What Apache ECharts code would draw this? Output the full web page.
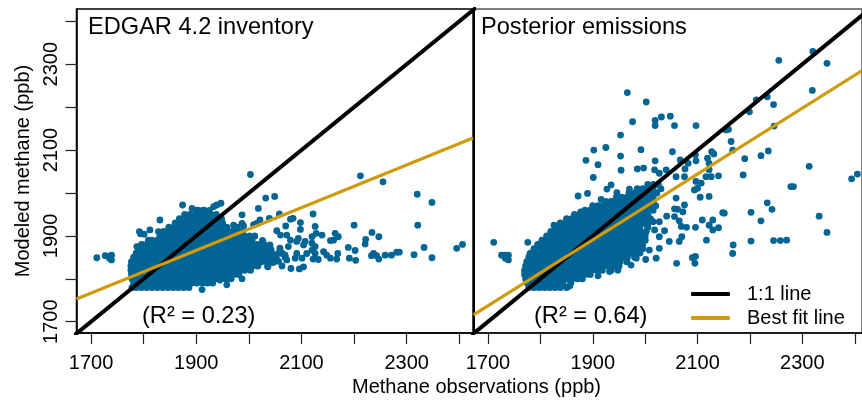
<!DOCTYPE html>
<html><head><meta charset="utf-8">
<style>html,body{margin:0;padding:0;background:#fff}#c{width:862px;height:400px}</style>
<script src="https://cdn.jsdelivr.net/npm/echarts@6/dist/echarts.min.js"></script>
</head><body><div id="c"></div>
<script>
const tickValues = [1700,1800,1900,2000,2100,2200,2300,2400];
const labelValues = [1700,1900,2100,2300];
const edgarOneToOne = [[1650,1650],[2450,2450]];
const edgarBestFit = [[1672.4,1753],[2426,2128]];
const posteriorOneToOne = [[1650,1650],[2450,2450]];
const posteriorBestFit = [[1672.4,1716],[2414,2285]];

const edgarCloud = [
[1778,1780],[1786,1780],[1796,1780],[1806,1780],[1816,1780],[1826,1780],[1836,1780],[1846,1780],[1856,1780],[1866,1780],[1876,1780],[1886,1780],
[1781,1790],[1791,1790],[1801,1790],[1811,1790],[1821,1790],[1831,1790],[1841,1790],[1851,1790],[1861,1790],[1871,1790],[1881,1790],[1891,1790],[1901,1790],[1911,1790],[1921,1790],[1931,1790],
[1778,1800],[1786,1800],[1796,1800],[1806,1800],[1816,1800],[1826,1800],[1836,1800],[1846,1800],[1856,1800],[1866,1800],[1876,1800],[1886,1800],[1896,1800],[1906,1800],[1916,1800],[1926,1800],[1936,1800],[1946,1800],[1956,1800],[1966,1800],
[1777,1810],[1781,1810],[1791,1810],[1801,1810],[1811,1810],[1821,1810],[1831,1810],[1841,1810],[1851,1810],[1861,1810],[1871,1810],[1881,1810],[1891,1810],[1901,1810],[1911,1810],[1921,1810],[1931,1810],[1941,1810],[1951,1810],[1961,1810],[1971,1810],[1981,1810],
[1776,1820],[1782,1820],[1792,1820],[1802,1820],[1812,1820],[1822,1820],[1832,1820],[1842,1820],[1852,1820],[1862,1820],[1872,1820],[1882,1820],[1892,1820],[1902,1820],[1912,1820],[1922,1820],[1932,1820],[1942,1820],[1952,1820],[1962,1820],[1972,1820],[1982,1820],[1992,1820],[2003,1820],
[1776,1830],[1779,1830],[1787,1830],[1797,1830],[1807,1830],[1817,1830],[1827,1830],[1837,1830],[1847,1830],[1857,1830],[1867,1830],[1877,1830],[1887,1830],[1897,1830],[1907,1830],[1917,1830],[1927,1830],[1937,1830],[1947,1830],[1957,1830],[1967,1830],[1977,1830],[1987,1830],[1997,1830],[2007,1830],[2017,1830],[2036,1829],
[1777,1840],[1784,1840],[1794,1840],[1804,1840],[1814,1840],[1824,1840],[1834,1840],[1844,1840],[1854,1840],[1864,1840],[1874,1840],[1884,1840],[1894,1840],[1904,1840],[1914,1840],[1924,1840],[1934,1840],[1944,1840],[1954,1840],[1964,1840],[1974,1840],[1984,1840],[1994,1840],[2004,1840],[2014,1840],[2024,1840],[2034,1840],[2046,1838],[2056,1841],
[1781,1850],[1789,1850],[1799,1850],[1809,1850],[1819,1850],[1829,1850],[1839,1850],[1849,1850],[1859,1850],[1869,1850],[1879,1850],[1889,1850],[1899,1850],[1909,1850],[1919,1850],[1929,1850],[1939,1850],[1949,1850],[1959,1850],[1969,1850],[1979,1850],[1989,1850],[1999,1850],[2009,1850],[2019,1850],[2030,1852],[2041,1849],[2052,1851],[2069,1850],
[1786,1860],[1794,1860],[1804,1860],[1814,1860],[1824,1860],[1834,1860],[1844,1860],[1854,1860],[1864,1860],[1874,1860],[1884,1860],[1894,1860],[1904,1860],[1914,1860],[1924,1860],[1934,1860],[1944,1860],[1954,1860],[1964,1860],[1974,1860],[1984,1860],[1994,1860],[2004,1860],[2014,1860],[2024,1860],[2035,1861],[2046,1858],[2058,1862],[2064,1859],
[1790,1870],[1799,1870],[1809,1870],[1819,1870],[1829,1870],[1839,1870],[1849,1870],[1859,1870],[1869,1870],[1879,1870],[1889,1870],[1899,1870],[1909,1870],[1919,1870],[1929,1870],[1939,1870],[1949,1870],[1959,1870],[1969,1870],[1979,1870],[1989,1870],[1999,1870],[2009,1870],[2019,1870],[2030,1871],[2042,1868],[2059,1871],
[1796,1880],[1806,1880],[1816,1880],[1826,1880],[1836,1880],[1846,1880],[1856,1880],[1866,1880],[1876,1880],[1886,1880],[1896,1880],[1906,1880],[1916,1880],[1926,1880],[1936,1880],[1946,1880],[1956,1880],[1966,1880],[1976,1880],[1986,1880],[1996,1880],[2006,1880],[2016,1880],[2028,1881],[2040,1879],
[1816,1890],[1826,1890],[1836,1890],[1846,1890],[1856,1890],[1866,1890],[1876,1890],[1886,1890],[1896,1890],[1906,1890],[1916,1890],[1926,1890],[1936,1890],[1946,1890],[1956,1890],[1966,1890],[1976,1890],[1986,1890],[1996,1890],[2006,1890],[2026,1889],
[1831,1900],[1841,1900],[1851,1900],[1861,1900],[1871,1900],[1881,1900],[1891,1900],[1901,1900],[1911,1900],[1921,1900],[1931,1900],[1941,1900],[1951,1900],[1961,1900],[1971,1900],[1981,1900],[1991,1900],[2001,1900],[2011,1900],
[1838,1910],[1848,1910],[1858,1910],[1868,1910],[1878,1910],[1888,1910],[1898,1910],[1908,1910],[1918,1910],[1928,1910],[1938,1910],[1948,1910],[1958,1910],[1968,1910],[1978,1910],[1988,1910],
[1848,1920],[1858,1920],[1868,1920],[1878,1920],[1888,1920],[1898,1920],[1908,1920],[1918,1920],[1928,1920],[1938,1920],[1948,1920],[1958,1920],[1978,1920],
[1860,1930],[1870,1930],[1880,1930],[1890,1930],[1900,1930],[1910,1930],[1920,1930],[1930,1930],[1940,1930],[1950,1930],
[1868,1940],[1878,1940],[1888,1940],[1898,1940],[1908,1940],[1918,1940],[1928,1940],[1938,1940],[1948,1940],
[1878,1950],[1888,1950],[1898,1950],[1908,1950],[1918,1950],[1928,1950],[1938,1950],
[1905,1959],[1915,1959],[1925,1959]
];
const edgarOutliers = [
[1711,1849],[1727,1854],[1733,1852],[1739,1855],[1739,1844],[1735,1848],
[2003,2043],[2032,1988],[2049,1992],[2212,2040],[2255,2026],[2320,1997],[2348,1978],[2321,1925],[2200,1925],[2234,1908],[2247,1898],[2222,1892],[2221,1881],[2189,1873],[2202,1866],[2169,1859],[2167,1846],[2155,1848],[2191,1848],[2203,1843],[2233,1854],[2237,1859],[2243,1854],[2247,1846],[2259,1855],[2271,1855],[2281,1862],[2286,1862],[2314,1856],[2333,1873],[2348,1849],[2395,1871],[2406,1880],
[2164,1906],[2170,1898],[2155,1889],[2161,1890],[2142,1863],[2148,1855],[2132,1845],[2122,1846],[2122,1951],[2126,1922],[2128,1906],[2120,1898],[2139,1902],[2098,1931],[2098,1915],[2094,1894],[2091,1887],[2107,1887],[2104,1879],[2120,1883],[2126,1875],[2120,1867],[2126,1859],[2110,1859],[2091,1859],[2101,1848],[2088,1848],[2104,1828],[2096,1823],[2080,1824],[2084,1941],[2079,1939],[2070,1923],[2058,1951],[2039,1941],[2053,1912],[2060,1902],[2072,1902],[2079,1890],[2075,1875],[2069,1855],[2072,1844],[2063,1830],[2036,1828],[2018,1964],[1987,1949],[1971,1925],[1987,1929],[1990,1923],[2009,1926],[2021,1937],[2015,1929],[1987,1800],[1958,1786],[1911,1775],[1961,1801],[1945,1797],
[1831,1937],[1874,1972],[1892,1964],[1901,1960],[1914,1960],[1933,1968],[1939,1972],[1947,1976],[1792,1910],[1794,1905],[1801,1904],[1812,1914],[1828,1910],[1809,1890],[1787,1875],[1800,1879],[1850,1918]
];

const posteriorCloud = [
[1778,1780],[1788,1780],[1798,1780],[1808,1780],[1818,1780],[1828,1780],[1838,1780],[1850,1780],
[1775,1790],[1783,1790],[1793,1790],[1803,1790],[1813,1790],[1823,1790],[1833,1790],[1843,1790],[1858,1790],
[1772,1800],[1780,1800],[1790,1800],[1800,1800],[1810,1800],[1820,1800],[1830,1800],[1840,1800],[1850,1800],[1860,1800],[1870,1800],[1880,1800],
[1770,1810],[1775,1810],[1785,1810],[1795,1810],[1805,1810],[1815,1810],[1825,1810],[1835,1810],[1845,1810],[1855,1810],[1865,1810],[1875,1810],[1885,1810],[1895,1810],
[1770,1820],[1778,1820],[1788,1820],[1798,1820],[1808,1820],[1818,1820],[1828,1820],[1838,1820],[1848,1820],[1858,1820],[1868,1820],[1878,1820],[1888,1820],[1898,1820],[1908,1820],[1918,1820],[1935,1820],
[1772,1830],[1780,1830],[1790,1830],[1800,1830],[1810,1830],[1820,1830],[1830,1830],[1840,1830],[1850,1830],[1860,1830],[1870,1830],[1880,1830],[1890,1830],[1900,1830],[1910,1830],[1920,1830],[1930,1830],[1940,1830],[1950,1830],
[1774,1840],[1782,1840],[1792,1840],[1802,1840],[1812,1840],[1822,1840],[1832,1840],[1842,1840],[1852,1840],[1862,1840],[1872,1840],[1882,1840],[1892,1840],[1902,1840],[1912,1840],[1922,1840],[1932,1840],[1942,1840],[1952,1840],[1965,1840],
[1778,1850],[1786,1850],[1796,1850],[1806,1850],[1816,1850],[1826,1850],[1836,1850],[1846,1850],[1856,1850],[1866,1850],[1876,1850],[1886,1850],[1896,1850],[1906,1850],[1916,1850],[1926,1850],[1936,1850],[1946,1850],[1956,1850],[1966,1850],[1980,1850],
[1782,1860],[1792,1860],[1802,1860],[1812,1860],[1822,1860],[1832,1860],[1842,1860],[1852,1860],[1862,1860],[1872,1860],[1882,1860],[1892,1860],[1902,1860],[1912,1860],[1922,1860],[1932,1860],[1942,1860],[1952,1860],[1962,1860],[1972,1860],[1982,1860],[1990,1860],
[1788,1870],[1798,1870],[1808,1870],[1818,1870],[1828,1870],[1838,1870],[1848,1870],[1858,1870],[1868,1870],[1878,1870],[1888,1870],[1898,1870],[1908,1870],[1918,1870],[1928,1870],[1938,1870],[1948,1870],[1958,1870],[1968,1870],[1978,1870],[1988,1870],[1995,1870],
[1795,1880],[1805,1880],[1815,1880],[1825,1880],[1835,1880],[1845,1880],[1855,1880],[1865,1880],[1875,1880],[1885,1880],[1895,1880],[1905,1880],[1915,1880],[1925,1880],[1935,1880],[1945,1880],[1955,1880],[1965,1880],[1975,1880],[1985,1880],[1995,1880],
[1803,1890],[1813,1890],[1823,1890],[1833,1890],[1843,1890],[1853,1890],[1863,1890],[1873,1890],[1883,1890],[1893,1890],[1903,1890],[1913,1890],[1923,1890],[1933,1890],[1943,1890],[1953,1890],[1963,1890],[1973,1890],[1983,1890],[1993,1890],[2000,1890],
[1812,1900],[1822,1900],[1832,1900],[1842,1900],[1852,1900],[1862,1900],[1872,1900],[1882,1900],[1892,1900],[1902,1900],[1912,1900],[1922,1900],[1932,1900],[1942,1900],[1952,1900],[1962,1900],[1972,1900],[1982,1900],[1992,1900],[2000,1900],
[1820,1910],[1830,1910],[1840,1910],[1850,1910],[1860,1910],[1870,1910],[1880,1910],[1890,1910],[1900,1910],[1910,1910],[1920,1910],[1930,1910],[1940,1910],[1950,1910],[1960,1910],[1970,1910],[1980,1910],[1990,1910],[2002,1910],
[1830,1920],[1840,1920],[1850,1920],[1860,1920],[1870,1920],[1880,1920],[1890,1920],[1900,1920],[1910,1920],[1920,1920],[1930,1920],[1940,1920],[1950,1920],[1960,1920],[1970,1920],[1980,1920],[1990,1920],[2005,1920],
[1838,1930],[1848,1930],[1858,1930],[1868,1930],[1878,1930],[1888,1930],[1898,1930],[1908,1930],[1918,1930],[1928,1930],[1938,1930],[1948,1930],[1958,1930],[1968,1930],[1978,1930],[1988,1930],[1998,1930],[2005,1930],
[1850,1940],[1860,1940],[1870,1940],[1880,1940],[1890,1940],[1900,1940],[1910,1940],[1920,1940],[1930,1940],[1940,1940],[1950,1940],[1960,1940],[1970,1940],[1980,1940],[1990,1940],[2000,1940],[2010,1940],
[1865,1950],[1875,1950],[1885,1950],[1895,1950],[1905,1950],[1915,1950],[1925,1950],[1935,1950],[1945,1950],[1955,1950],[1965,1950],[1975,1950],[1985,1950],[1995,1950],[2005,1950],
[1885,1960],[1895,1960],[1905,1960],[1915,1960],[1925,1960],[1935,1960],[1945,1960],[1955,1960],[1965,1960],[1975,1960],[1985,1960],[1995,1960],[2005,1960],[2015,1960],
[1900,1970],[1910,1970],[1920,1970],[1930,1970],[1940,1970],[1950,1970],[1960,1970],[1970,1970],[1980,1970],[1990,1970],[2000,1970],[2010,1970],[2020,1970],
[1925,1980],[1935,1980],[1945,1980],[1955,1980],[1965,1980],[1975,1980],[1985,1980],[1995,1980],[2005,1980],[2015,1980],
[1945,1990],[1955,1990],[1965,1990],[1975,1990],[1985,1990],[1995,1990],[2005,1990],[2015,1990],
[1970,2000],[1980,2000],[1990,2000],[2000,2000],[2010,2000],[2022,2000],
[1985,2010],[1995,2010],[2005,2010],[2015,2010],[2030,2010],
[2005,2020],[2015,2020],[2025,2020]
];
const posteriorOutliers = [
[2320,2330],[2255,2309],[2347,2302],[2319,2239],[2212,2217],[2233,2224],[2245,2206],[2199,2189],[2246,2156],[2159,2148],[2154,2147],[2164,2120],[2167,2100],[2127,2096],[2131,2091],[2119,2081],[2122,2069],[2235,2098],[2221,2087],[2190,2080],[2187,2042],[2313,2062],[2283,2015],[2278,2015],[2405,2044],[2394,2033],[2140,2040],[2126,2038],[2116,2038],[2122,2054],[2097,2075],[2096,2089],[2097,2157],[2056,2157],[2048,2179],[2031,2177],[2019,2169],[2019,2157],[2002,2212],[1966,2234],[1976,2166],[1953,2135],[1992,2101],[2052,2096],[2019,2075],[1925,2106],[1902,2100],[1953,2086],[1887,2076],[1910,2066],[1954,2053],[1985,2056],[1997,2058],[1901,2036],[1935,2019],[1927,2009],[1946,2001],[1890,1999],[1872,1993],[1970,2009],[1969,2001],[1986,2001],[1916,1985],[2067,2077],[2082,2069],[2076,2056],[2059,2038],[2075,2038],[2097,2027],[2107,2023],[2094,2007],[2100,2011],[2122,1992],[2105,1990],[2059,1988],[2027,2046],[2040,2054],[2018,2054],
[1711,1885],[1726,1855],[1733,1855],[1739,1855],[1733,1848],[1739,1844],[1776,1885],[1780,1858],[2233,1977],[2242,1962],[2202,1955],[2221,1935],[2332,1946],[2347,1908],[2151,1953],[2148,1954],[2129,1937],[2122,1925],[2129,1914],[2140,1919],[2109,1937],[2096,1920],[2117,1890],[2168,1879],[2167,1859],[2202,1888],[2245,1889],[2258,1889],[2270,1890],[2096,1852],[2090,1849],[2095,1836],[2060,1836],[2075,1972],[2056,1963],[2062,1962],[2072,1956],[2056,1945],[2041,1946],[2065,1935],[2069,1922],[2079,1920],[2037,1912],[2015,1933],[2027,1933],[2018,1914],[2027,1898],[2046,1887],[2065,1887],[2070,1898],[2027,1871],[2008,1867],[2021,1848],[2001,1845],[1983,1848],[1973,1832],[1948,1820],[1932,1817],[1910,1807],[1888,1813],[1856,1783],[1877,1956],[1826,1925],[1821,1906],[1806,1883]
];

const FONT = '"Liberation Sans", Arial, sans-serif';
const BLUE = '#006494', GOLD = '#CF9A0B', BLACK = '#000';
const chart = echarts.init(document.getElementById('c'), null, {renderer:'canvas'});

function xAxis(idx, max){
  return {type:'value', gridIndex:idx, min:1672.4, max:max, splitLine:{show:false},
    axisLine:{show:true, onZero:false, lineStyle:{color:'#000', width:1.5}},
    axisTick:{show:true, customValues:tickValues, length:11, lineStyle:{color:'#222', width:1.2}},
    axisLabel:{show:true, customValues:labelValues, color:'#000', fontFamily:FONT, fontSize:20, margin:20, formatter:v=>String(v), hideOverlap:false}};
}
function yAxis(idx){
  const shown = idx === 0;
  return {type:'value', gridIndex:idx, min:1673.7, max:2428.7, splitLine:{show:false},
    name: shown ? 'Modeled methane (ppb)' : '', nameLocation:'middle', nameRotate:90, nameGap:43,
    nameTextStyle:{color:'#000', fontFamily:FONT, fontSize:20},
    axisLine:{show:true, onZero:false, lineStyle:{color:'#000', width: shown ? 1.5 : 2}},
    axisTick:{show:shown, customValues:tickValues, length:11, lineStyle:{color:'#222', width:1.2}},
    axisLabel:{show:shown, customValues:labelValues, rotate:90, color:'#000', fontFamily:FONT, fontSize:20, margin:15, formatter:v=>String(v), hideOverlap:false, align:'center', verticalAlign:'bottom'}};
}
function pts(name, idx, data, size){
  return {name, type:'scatter', xAxisIndex:idx, yAxisIndex:idx, data, symbol:'circle', symbolSize:size, large:false, progressive:0,
    itemStyle:{color:BLUE, opacity:1}, silent:true, z:2};
}
function line(name, idx, data, color, width, z){
  return {name, type:'line', xAxisIndex:idx, yAxisIndex:idx, data, symbol:'none', clip:true, silent:true, z,
    lineStyle:{color, width, cap:'butt'}, itemStyle:{color}};
}
function label(text, left, top, size){
  return {text, left, top, padding:0, textStyle:{color:'#000', fontFamily:FONT, fontSize:size, fontWeight:'normal'}};
}

chart.setOption({
  animation:false, backgroundColor:'#fff',
  title:[
    label('EDGAR 4.2 inventory', 88, 15, 23.6),
    label('Posterior emissions', 481, 15, 23.6),
    label('(R² = 0.23)', 142, 304, 23.6),
    label('(R² = 0.64)', 534, 304, 23.6),
    label('Methane observations (ppb)', 352, 377, 20)
  ],
  grid:[
    {left:76.5, top:9, width:396.5, height:324, show:true, borderColor:'#000', borderWidth:1.5, backgroundColor:'transparent', containLabel:false},
    {left:473.5, top:9, width:390, height:324, show:true, borderColor:'#555', borderWidth:1.5, backgroundColor:'transparent', containLabel:false}
  ],
  xAxis:[xAxis(0,2426), xAxis(1,2413.8)],
  yAxis:[yAxis(0), yAxis(1)],
  legend:{show:true, orient:'vertical', left:686, top:279, itemWidth:39, itemHeight:4, itemGap:4,
    data:[{name:'1:1 line', icon:'roundRect'},{name:'Best fit line', icon:'roundRect'}], selectedMode:false,
    textStyle:{color:'#000', fontFamily:FONT, fontSize:20, padding:[0,0,0,12]}},
  series:[
    pts('EDGAR cloud',0,edgarCloud,7),
    pts('EDGAR outliers',0,edgarOutliers,6.8),
    line('1:1 line',0,edgarOneToOne,BLACK,4,4),
    line('Best fit line',0,edgarBestFit,GOLD,3.2,5),
    pts('Posterior cloud',1,posteriorCloud,7),
    pts('Posterior outliers',1,posteriorOutliers,6.8),
    line('1:1 line',1,posteriorOneToOne,BLACK,4,4),
    line('Best fit line',1,posteriorBestFit,GOLD,3.2,5)
  ]
});
</script></body></html>
